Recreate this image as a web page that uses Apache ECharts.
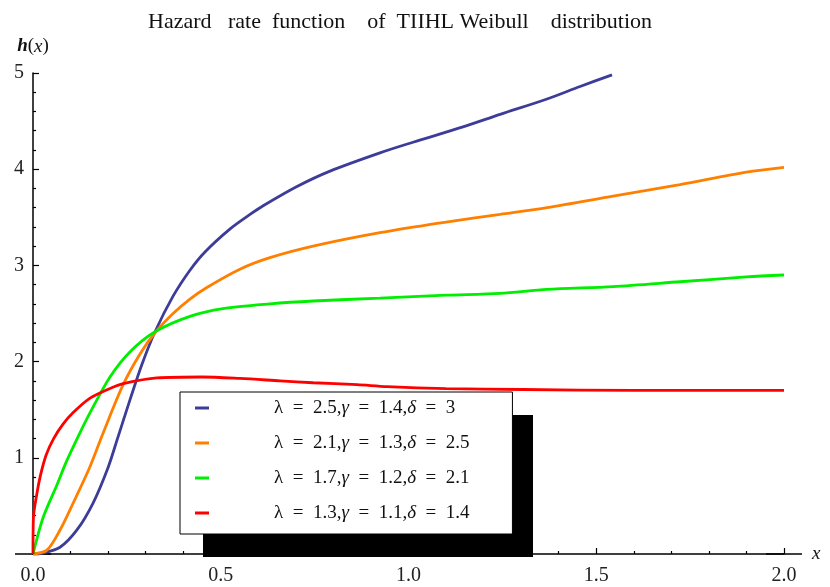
<!DOCTYPE html>
<html>
<head>
<meta charset="utf-8">
<script src="https://cdn.jsdelivr.net/npm/echarts@6/dist/echarts.min.js"></script>
<style>
	html, body {margin: 0; padding: 0; background: #fff;}
	#hazardChart {width: 830px; height: 587px;}
</style>
</head>
<body>
<div id="hazardChart"></div>
<script>
// values
const blueX = [0, 0.027, 0.072, 0.117, 0.16, 0.2, 0.225, 0.258, 0.29, 0.325, 0.373, 0.418, 0.458, 0.525, 0.578, 0.613, 0.703, 0.791, 0.924, 1.012, 1.145, 1.244, 1.369, 1.457, 1.542];
const blueY = [0, 0.01, 0.07, 0.25, 0.53, 0.9, 1.2, 1.6, 1.97, 2.31, 2.68, 2.95, 3.14, 3.38, 3.53, 3.62, 3.82, 3.98, 4.17, 4.28, 4.44, 4.57, 4.73, 4.86, 4.98];

const orangeX = [0, 0.037, 0.072, 0.107, 0.152, 0.186, 0.24, 0.285, 0.325, 0.373, 0.418, 0.463, 0.551, 0.631, 0.746, 0.924, 1.1, 1.244, 1.369, 1.545, 1.723, 1.9, 2.0];
const orangeY = [0, 0.04, 0.25, 0.53, 0.91, 1.25, 1.76, 2.08, 2.3, 2.5, 2.65, 2.77, 2.96, 3.08, 3.2, 3.34, 3.45, 3.53, 3.6, 3.72, 3.84, 3.97, 4.02];

const greenX = [0, 0.027, 0.064, 0.09, 0.125, 0.152, 0.205, 0.258, 0.325, 0.418, 0.506, 0.631, 0.746, 0.924, 1.1, 1.244, 1.369, 1.545, 1.723, 1.9, 2.0];
const greenY = [0, 0.38, 0.72, 0.97, 1.26, 1.47, 1.84, 2.1, 2.31, 2.47, 2.55, 2.6, 2.63, 2.66, 2.69, 2.71, 2.75, 2.78, 2.83, 2.88, 2.9];

const redX = [0, 0.001, 0.01, 0.02, 0.035, 0.055, 0.08, 0.107, 0.152, 0.205, 0.24, 0.33, 0.45, 0.551, 0.658, 0.746, 0.863, 0.943, 1.1, 1.305, 1.6, 2.0];
const redY = [0, 0.37, 0.62, 0.82, 1.03, 1.2, 1.35, 1.47, 1.62, 1.72, 1.77, 1.83, 1.84, 1.825, 1.8, 1.78, 1.76, 1.74, 1.72, 1.71, 1.7, 1.7];

const seriesNames = ['λ = 2.5,γ = 1.4,δ = 3', 'λ = 2.1,γ = 1.3,δ = 2.5', 'λ = 1.7,γ = 1.2,δ = 2.1', 'λ = 1.3,γ = 1.1,δ = 1.4'];
const seriesColors = ['#3d3d99', '#ff8000', '#00ee00', '#ff0000'];

const pairs = (xs, ys) => xs.map((x, i) => [x, ys[i]]);
const curves = [pairs(blueX, blueY), pairs(orangeX, orangeY), pairs(greenX, greenY), pairs(redX, redY)];

const serif = '"Liberation Serif", "DejaVu Serif", serif';

let myChart = echarts.init(document.getElementById('hazardChart'));
myChart.setOption({
	animation: false,
	title: {
		text: 'Hazard   rate  function    of  TIIHL Weibull    distribution',
		left: 143,
		top: 6,
		textStyle: {fontFamily: serif, fontSize: 22, fontWeight: 'normal', color: '#111'}
	},
	grid: {left: 33, right: 46, top: 73, bottom: 33, containLabel: false},
	// black drop shadow behind the legend box
	graphic: [{
		type: 'rect',
		left: 203,
		top: 415,
		shape: {width: 330, height: 142},
		style: {fill: '#000'},
		z: 4
	}],
	legend: {
		left: 180,
		top: 392,
		orient: 'vertical',
		icon: 'rect',
		itemWidth: 14,
		itemHeight: 3,
		itemGap: 15,
		padding: [6, 43, 11, 15],
		backgroundColor: '#fff',
		borderColor: '#000',
		borderWidth: 1,
		z: 5,
		formatter: name => name.replace(/ = /g, '  =  ').replace(/([γδ])/g, '{i|$1}'),
		textStyle: {
			fontFamily: serif,
			fontSize: 19,
			lineHeight: 20,
			color: '#111',
			padding: [0, 0, 0, 60],
			rich: {
				i: {fontFamily: serif, fontSize: 19, fontStyle: 'italic', color: '#111'}
			}
		},
		data: seriesNames
	},
	xAxis: {
		type: 'value',
		min: 0,
		max: 2,
		interval: 0.5,
		name: 'x',
		nameLocation: 'end',
		nameGap: 28,
		nameTextStyle: {fontFamily: serif, fontSize: 19, fontStyle: 'italic', color: '#111', verticalAlign: 'middle'},
		axisLine: {
			onZero: false,
			symbol: ['rect', 'rect'],
			symbolSize: [1.5, 36],
			lineStyle: {color: '#000', width: 1.5}
		},
		axisTick: {inside: true, length: 6, lineStyle: {color: '#000', width: 1.2}},
		minorTick: {show: true, splitNumber: 5, length: 3, lineStyle: {color: '#000', width: 1.2}},
		axisLabel: {
			fontFamily: serif,
			fontSize: 20,
			color: '#222',
			margin: 12,
			formatter: v => v.toFixed(1)
		},
		splitLine: {show: false}
	},
	yAxis: {
		type: 'value',
		min: 0,
		max: 5,
		interval: 1,
		name: '{b|h}({i|x})',
		nameLocation: 'end',
		nameGap: 17,
		nameTextStyle: {
			fontFamily: serif,
			fontSize: 19,
			color: '#111',
			rich: {
				b: {fontFamily: serif, fontSize: 19, fontStyle: 'italic', fontWeight: 'bold', color: '#111'},
				i: {fontFamily: serif, fontSize: 19, fontStyle: 'italic', color: '#111'}
			}
		},
		axisLine: {onZero: false, lineStyle: {color: '#000', width: 1.5}},
		axisTick: {inside: true, length: 6, lineStyle: {color: '#000', width: 1.2}},
		minorTick: {show: true, splitNumber: 5, length: 3, lineStyle: {color: '#000', width: 1.2}},
		axisLabel: {
			fontFamily: serif,
			fontSize: 20,
			color: '#222',
			margin: 9,
			formatter: v => (v === 0 ? '' : String(v))
		},
		splitLine: {show: false}
	},
	series: seriesNames.map((name, i) => ({
		name: name,
		type: 'line',
		data: curves[i],
		showSymbol: false,
		smooth: 0.3,
		color: seriesColors[i],
		lineStyle: {width: 2.8, color: seriesColors[i]},
		z: 3
	}))
});
</script>
</body>
</html>
